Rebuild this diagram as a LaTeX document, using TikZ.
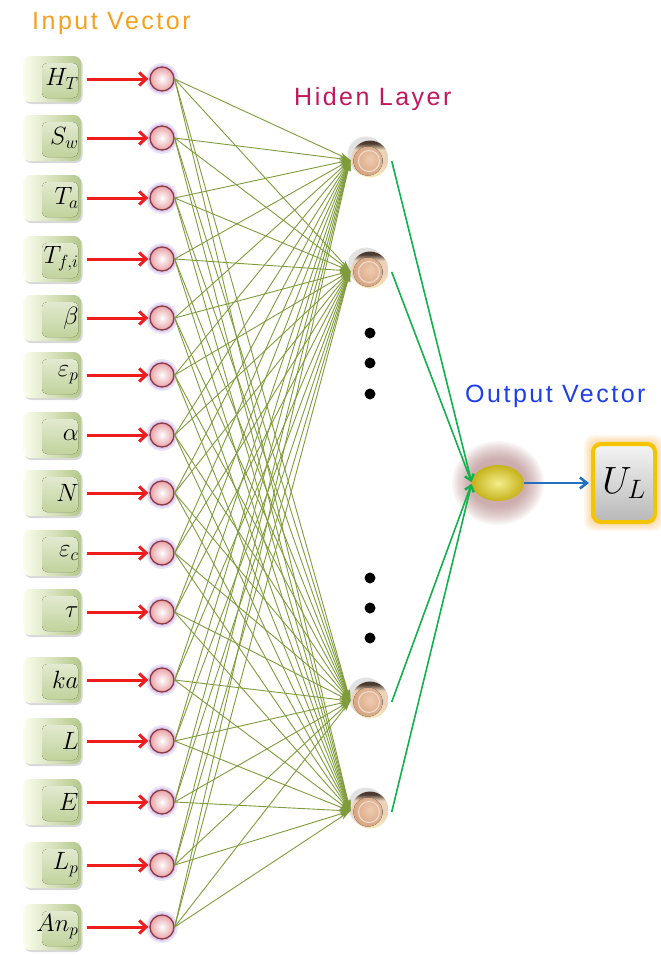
\RequirePackage{fix-cm}
\documentclass[tikz,border=0pt]{standalone}
\usepackage{fontspec}
\setmainfont{Liberation Sans}
\newfontfamily\titlefont[LetterSpace=10]{Liberation Sans}
\usetikzlibrary{arrows.meta,shapes.geometric,shadows,calc}

\definecolor{keylight}{HTML}{FBFDEE}
\definecolor{keyedge}{HTML}{B4C88A}
\definecolor{keyface}{HTML}{BDD096}
\definecolor{inpink}{HTML}{E8A2A6}
\definecolor{inborder}{HTML}{8E3B43}
\definecolor{glowviolet}{HTML}{C4AEEA}
\definecolor{arrowred}{HTML}{EE1C1C}
\definecolor{oliveline}{HTML}{7F9B3B}
\definecolor{linkgreen}{HTML}{14B04E}
\definecolor{outblue}{HTML}{2370C0}
\definecolor{titleorange}{HTML}{F7A01E}
\definecolor{titlemagenta}{HTML}{C2185B}
\definecolor{titleblue}{HTML}{1D3FE8}
\definecolor{hidtop}{HTML}{4A3A30}
\definecolor{hidmid}{HTML}{EBD2B8}
\definecolor{hidbottom}{HTML}{F6E8B8}
\definecolor{hidin}{HTML}{EFCBAE}
\definecolor{hidout}{HTML}{D3A07E}
\definecolor{outin}{HTML}{F4EE8A}
\definecolor{outout}{HTML}{C6B21C}
\definecolor{outglow}{HTML}{9A5A5A}
\definecolor{ulframe}{HTML}{F4C400}
\definecolor{ulglow}{HTML}{F59A1E}

% shell shading of a hidden neuron: dark rim only along the top
\pgfdeclareverticalshading{hidshade}{100bp}{color(0bp)=(hidbottom); color(25bp)=(hidbottom);
  color(45bp)=(hidmid); color(63bp)=(hidmid); color(71bp)=(hidtop); color(100bp)=(hidtop)}

\tikzset{
  keycap/.style={rounded corners=7pt, minimum width=58pt, minimum height=46pt,
    inner sep=2pt, left color=keylight, right color=keyedge,
    drop shadow={shadow xshift=1.5pt, shadow yshift=-2pt, opacity=0.22, fill=black!70},
    path picture={\fill[rounded corners=5pt, top color=keyface!35!white, bottom color=keyface]
      ($(path picture bounding box.south east)+(-3,-4)$) rectangle
      ($(path picture bounding box.north west)+(19,7)$);},
    text width=53pt, align=right, font=\fontsize{25}{27}\selectfont},
  innode/.style={circle, minimum size=24pt, inner sep=0pt, draw=inborder, line width=1.3pt,
    inner color=white, outer color=inpink,
    preaction={draw=glowviolet, line width=8pt, draw opacity=0.35},
    preaction={draw=glowviolet, line width=4pt, draw opacity=0.5}},
  hidnode/.style={circle, minimum size=37pt, inner sep=0pt, shading=hidshade,
    drop shadow={shadow xshift=-4pt, shadow yshift=4pt, opacity=0.16, fill=black!70},
    path picture={
      \fill[inner color=hidin, outer color=hidout]
        ($(path picture bounding box.center)+(-2,2)$) circle (14.5pt);
      \draw[white!70!hidout, line width=0.9pt]
        ($(path picture bounding box.center)+(-1,2)$) circle (10.5pt);}},
  dotnode/.style={circle, fill=black, minimum size=11pt, inner sep=0pt},
  outnode/.style={ellipse, minimum width=52pt, minimum height=36pt, inner sep=0pt,
    inner color=outin, outer color=outout},
  ulbox/.style={rounded corners=8pt, minimum width=62pt, minimum height=78pt,
    draw=ulframe, line width=4pt, top color=white!96!black, bottom color=black!28,
    font=\fontsize{38}{40}\selectfont},
  titletext/.style={anchor=west, inner sep=0pt, font=\titlefont\fontsize{25}{28}\selectfont},
  redarrow/.style={draw=arrowred, line width=3pt, -{Straight Barb[length=7pt,width=13pt]}},
  oliveedge/.style={draw=oliveline, line width=0.9pt, -{Stealth[length=11pt,width=6pt]}},
  greenedge/.style={draw=linkgreen, line width=1.6pt, -{Straight Barb[length=6pt,width=9pt]}},
  blueedge/.style={draw=outblue, line width=2.6pt, -{Straight Barb[length=7pt,width=11pt]}},
}

\begin{document}
\begin{tikzpicture}[x=1pt,y=-1pt]
\useasboundingbox (0,0) rectangle (661,956);

% titles
\node[titletext, text=titleorange] (tin) at (32,23) {Input Vector};
\node[titletext, text=titlemagenta] (thid) at (294,99) {Hiden Layer};
\node[titletext, text=titleblue] (tout) at (465,396) {Output Vector};

% input keys, input neurons and the red arrows between them
\foreach \lab/\y [count=\i] in {{H_T}/79, {S_w}/138, {T_a}/198, {T_{f,i}}/259,
    {\beta}/318, {\varepsilon_p}/375, {\alpha}/435, {N}/493, {\varepsilon_c}/553,
    {\tau}/612, {ka}/680, {L}/741, {E}/802, {L_p}/865, {An_p}/927} {
  \node[keycap] (k\i) at (52,\y) {$\lab$};
  \node[innode] (i\i) at (162,\y) {};
  \draw[redarrow, shorten <=6pt, shorten >=1pt] (k\i.east) -- (i\i.west);
}

% hidden neurons
\foreach \y [count=\j] in {159,270,700,810} {
  \node[hidnode] (h\j) at (370,\y) {};
  \coordinate (hin\j) at ($(h\j.west)+(-1,1)$);
}

% ellipsis dots between hidden neurons
\node[dotnode] (d1) at (370,333) {};
\node[dotnode] (d2) at (370,363) {};
\node[dotnode] (d3) at (370,394) {};
\node[dotnode] (d4) at (370,578) {};
\node[dotnode] (d5) at (370,608) {};
\node[dotnode] (d6) at (370,638) {};

% fully connected input -> hidden
\foreach \i in {1,...,15} {
  \foreach \j in {1,...,4} {
    \draw[oliveedge] (i\i.east) -- (hin\j);
  }
}

% output neuron with a soft glow built from stacked translucent ellipses
\coordinate (oc) at (498,483);
\foreach \k in {0,...,11} {
  \fill[outglow, opacity=0.055] (oc) ellipse ({46-1.6*\k} and {42-1.6*\k});
}
\node[outnode] (o) at (oc) {};

% result box with its glow
\coordinate (uc) at (624,483);
\foreach \k in {1,...,6} {
  \fill[ulglow, opacity=0.08, rounded corners=10pt]
    ($(uc)+(-31-1.5*\k,-39-1.5*\k)$) rectangle ($(uc)+(31+1.5*\k,39+1.5*\k)$);
}
\node[ulbox] (u) at (uc) {$U_L$};

% hidden -> output
\foreach \j in {1,...,4} {
  \draw[greenedge, shorten >=1pt] ($(h\j.east)+(3,2)$) -- (o.west);
}

% output -> result
\draw[blueedge, shorten >=2pt] (o.east) -- (u.west);
\end{tikzpicture}
\end{document}
